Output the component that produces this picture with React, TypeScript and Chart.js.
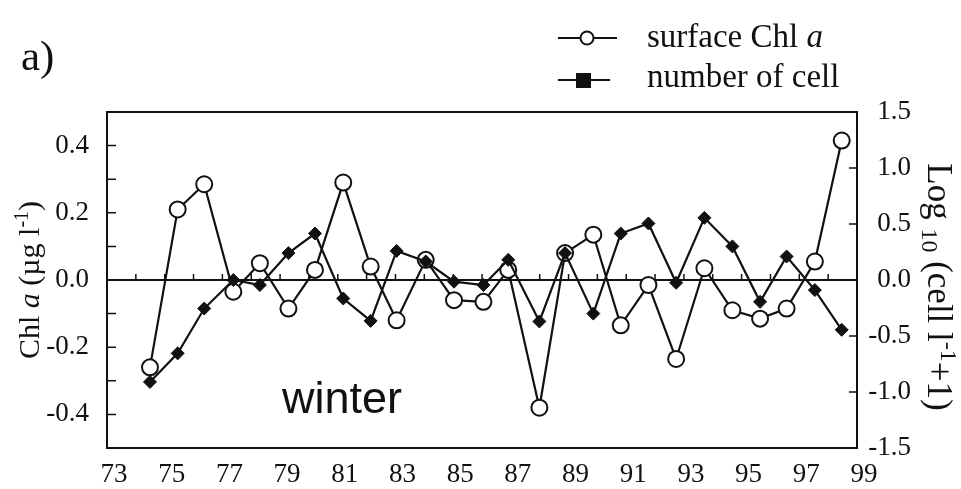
import React, { useEffect, useRef } from 'react';
import { Chart, registerables } from 'chart.js';

Chart.register(...registerables);

// ---- data ----
const years = [74.49, 75.45, 76.37, 77.38, 78.3, 79.29, 80.21, 81.19, 82.14, 83.04, 84.05, 85.03, 86.05, 86.91, 87.99, 88.88, 89.86, 90.81, 91.77, 92.73, 93.71, 94.68, 95.64, 96.56, 97.54, 98.47];
const chlA = [-0.26, 0.21, 0.285, -0.035, 0.05, -0.085, 0.03, 0.29, 0.04, -0.12, 0.06, -0.06, -0.065, 0.03, -0.38, 0.08, 0.135, -0.135, -0.015, -0.235, 0.035, -0.09, -0.115, -0.085, 0.055, 0.415];
const cellCount = [-0.91, -0.655, -0.255, 0.0, -0.045, 0.24, 0.415, -0.165, -0.365, 0.26, 0.165, -0.015, -0.045, 0.18, -0.37, 0.24, -0.3, 0.415, 0.505, -0.025, 0.555, 0.3, -0.195, 0.21, -0.09, -0.445];

const xTickLabels = [73, 75, 77, 79, 81, 83, 85, 87, 89, 91, 93, 95, 97, 99];
const chlTickLabels = [-0.4, -0.2, 0, 0.2, 0.4];
const cellTickLabels = [-1.5, -1, -0.5, 0, 0.5, 1, 1.5];
const chlTickMarks = [-0.4, -0.3, -0.2, -0.1, 0.1, 0.2, 0.3, 0.4];
const cellTickMarks = [-1, -0.5, 0.5, 1];
const zeroLineTicks = [74, 75, 76, 77, 78, 79, 80, 81, 82, 83, 84, 85, 86, 87, 88, 89, 90, 91, 92, 93, 94, 95, 96, 97, 98];

const SERIF = '"Liberation Serif", "Times New Roman", serif';
const SANS = '"Liberation Sans", Arial, sans-serif';
const INK = '#111';

type Run = { t: string; s: number; italic?: boolean; dy?: number };

function runsWidth(ctx: CanvasRenderingContext2D, runs: Run[]) {
  let w = 0;
  for (const r of runs) {
    ctx.font = `${r.italic ? 'italic ' : ''}${r.s}px ${SERIF}`;
    w += ctx.measureText(r.t).width;
  }
  return w;
}

function drawRuns(ctx: CanvasRenderingContext2D, runs: Run[], x: number, y: number) {
  let cx = x;
  for (const r of runs) {
    ctx.font = `${r.italic ? 'italic ' : ''}${r.s}px ${SERIF}`;
    ctx.fillText(r.t, cx, y + (r.dy || 0));
    cx += ctx.measureText(r.t).width;
  }
}

const decorPlugin = {
  id: 'decor',
  beforeDatasetsDraw(chart: any) {
    const { ctx, chartArea: a, scales } = chart;
    ctx.save();
    ctx.strokeStyle = INK;
    ctx.lineWidth = 2;
    ctx.strokeRect(a.left, a.top, a.right - a.left, a.bottom - a.top);
    const y0 = scales.y.getPixelForValue(0);
    ctx.beginPath();
    ctx.moveTo(a.left, y0);
    ctx.lineTo(a.right, y0);
    ctx.stroke();
    ctx.lineWidth = 1.5;
    ctx.beginPath();
    zeroLineTicks.forEach((v) => {
      const x = scales.x.getPixelForValue(v);
      ctx.moveTo(x, y0);
      ctx.lineTo(x, y0 - 6);
    });
    chlTickMarks.forEach((v) => {
      const y = scales.y.getPixelForValue(v);
      ctx.moveTo(a.left, y);
      ctx.lineTo(a.left + 9, y);
    });
    cellTickMarks.forEach((v) => {
      const y = scales.y2.getPixelForValue(v);
      ctx.moveTo(a.right, y);
      ctx.lineTo(a.right - 8, y);
    });
    ctx.stroke();
    ctx.restore();
  },
  afterDraw(chart: any) {
    const { ctx } = chart;
    ctx.save();
    ctx.fillStyle = INK;
    ctx.strokeStyle = INK;
    ctx.textBaseline = 'alphabetic';
    ctx.textAlign = 'left';

    // panel label
    ctx.font = `43px ${SERIF}`;
    ctx.fillText('a)', 21, 70);

    // legend
    ctx.lineWidth = 2.2;
    ctx.beginPath();
    ctx.moveTo(558, 38);
    ctx.lineTo(617, 38);
    ctx.moveTo(558, 80);
    ctx.lineTo(610, 80);
    ctx.stroke();
    ctx.lineWidth = 2;
    ctx.beginPath();
    ctx.arc(587, 38, 6.5, 0, Math.PI * 2);
    ctx.fillStyle = '#fff';
    ctx.fill();
    ctx.stroke();
    ctx.fillStyle = INK;
    ctx.fillRect(576, 73, 15, 15);
    drawRuns(ctx, [{ t: 'surface Chl ', s: 33 }, { t: 'a', s: 33, italic: true }], 647, 47);
    drawRuns(ctx, [{ t: 'number of cell', s: 33 }], 647, 87);

    // left axis title
    const leftRuns: Run[] = [
      { t: 'Chl ', s: 30 },
      { t: 'a', s: 30, italic: true },
      { t: ' (\u00b5g l', s: 30 },
      { t: '-1', s: 20, dy: -11 },
      { t: ')', s: 30 },
    ];
    ctx.save();
    ctx.translate(39, 280);
    ctx.rotate(-Math.PI / 2);
    drawRuns(ctx, leftRuns, -runsWidth(ctx, leftRuns) / 2, 0);
    ctx.restore();

    // right axis title
    const rightRuns: Run[] = [
      { t: 'Log ', s: 35 },
      { t: '10', s: 24, dy: 6 },
      { t: ' (cell l', s: 35 },
      { t: '-1', s: 24, dy: -13 },
      { t: '+1)', s: 35 },
    ];
    ctx.save();
    ctx.translate(928, 287);
    ctx.rotate(Math.PI / 2);
    drawRuns(ctx, rightRuns, -runsWidth(ctx, rightRuns) / 2, 0);
    ctx.restore();

    // annotation
    ctx.font = `45px ${SANS}`;
    ctx.fillText('winter', 282, 413);
    ctx.restore();
  },
};

export default function App() {
  const canvasRef = useRef<HTMLCanvasElement | null>(null);

  useEffect(() => {
    const canvas = canvasRef.current;
    if (!canvas) return;
    const tickFont = { family: SERIF, size: 27 };
    const chart = new Chart(canvas, {
      type: 'line',
      data: {
        datasets: [
          {
            label: 'number of cell',
            data: years.map((x, i) => ({ x, y: cellCount[i] })),
            yAxisID: 'y2',
            borderColor: INK,
            borderWidth: 2.2,
            backgroundColor: INK,
            pointStyle: 'rectRot',
            pointRadius: 6.5,
            pointBorderWidth: 1,
            pointBackgroundColor: INK,
            pointBorderColor: INK,
            tension: 0,
            order: 1,
          },
          {
            label: 'surface Chl a',
            data: years.map((x, i) => ({ x, y: chlA[i] })),
            yAxisID: 'y',
            borderColor: INK,
            borderWidth: 2.2,
            backgroundColor: '#fff',
            pointStyle: 'circle',
            pointRadius: 8,
            pointBorderWidth: 2,
            pointBackgroundColor: '#fff',
            pointBorderColor: INK,
            tension: 0,
            order: 2,
          },
        ],
      },
      options: {
        responsive: false,
        animation: false,
        events: [],
        layout: { padding: { top: 112, right: 50, left: 0, bottom: 0 } },
        plugins: { legend: { display: false }, tooltip: { enabled: false } },
        scales: {
          x: {
            type: 'linear',
            position: 'bottom',
            min: 73,
            max: 99,
            grid: { display: false, drawTicks: false },
            border: { display: false },
            afterBuildTicks: (s: any) => {
              s.ticks = xTickLabels.map((v) => ({ value: v }));
            },
            afterFit: (s: any) => {
              s.height = 41;
            },
            ticks: {
              autoSkip: false,
              maxRotation: 0,
              minRotation: 0,
              padding: 11,
              labelOffset: 7,
              color: INK,
              font: tickFont,
              callback: (v: any) => String(v),
            },
          },
          y: {
            type: 'linear',
            position: 'left',
            min: -0.5,
            max: 0.5,
            grid: { display: false, drawTicks: false },
            border: { display: false },
            afterBuildTicks: (s: any) => {
              s.ticks = chlTickLabels.map((v) => ({ value: v }));
            },
            afterFit: (s: any) => {
              s.width = 107;
            },
            ticks: {
              padding: 18,
              color: INK,
              font: tickFont,
              callback: (v: any) => Number(v).toFixed(1),
            },
          },
          y2: {
            type: 'linear',
            position: 'right',
            min: -1.5,
            max: 1.5,
            grid: { display: false, drawTicks: false },
            border: { display: false },
            afterBuildTicks: (s: any) => {
              s.ticks = cellTickLabels.map((v) => ({ value: v }));
            },
            afterFit: (s: any) => {
              s.width = 54;
            },
            ticks: {
              crossAlign: 'far',
              padding: 10,
              color: INK,
              font: tickFont,
              callback: (v: any) => Number(v).toFixed(1),
            },
          },
        },
      },
      plugins: [decorPlugin],
    } as any);
    return () => chart.destroy();
  }, []);

  return (
    <div style={{ position: 'absolute', left: 0, top: 0, width: 961, height: 489, background: '#fff' }}>
      <canvas ref={canvasRef} width={961} height={489} style={{ display: 'block' }} />
    </div>
  );
}
